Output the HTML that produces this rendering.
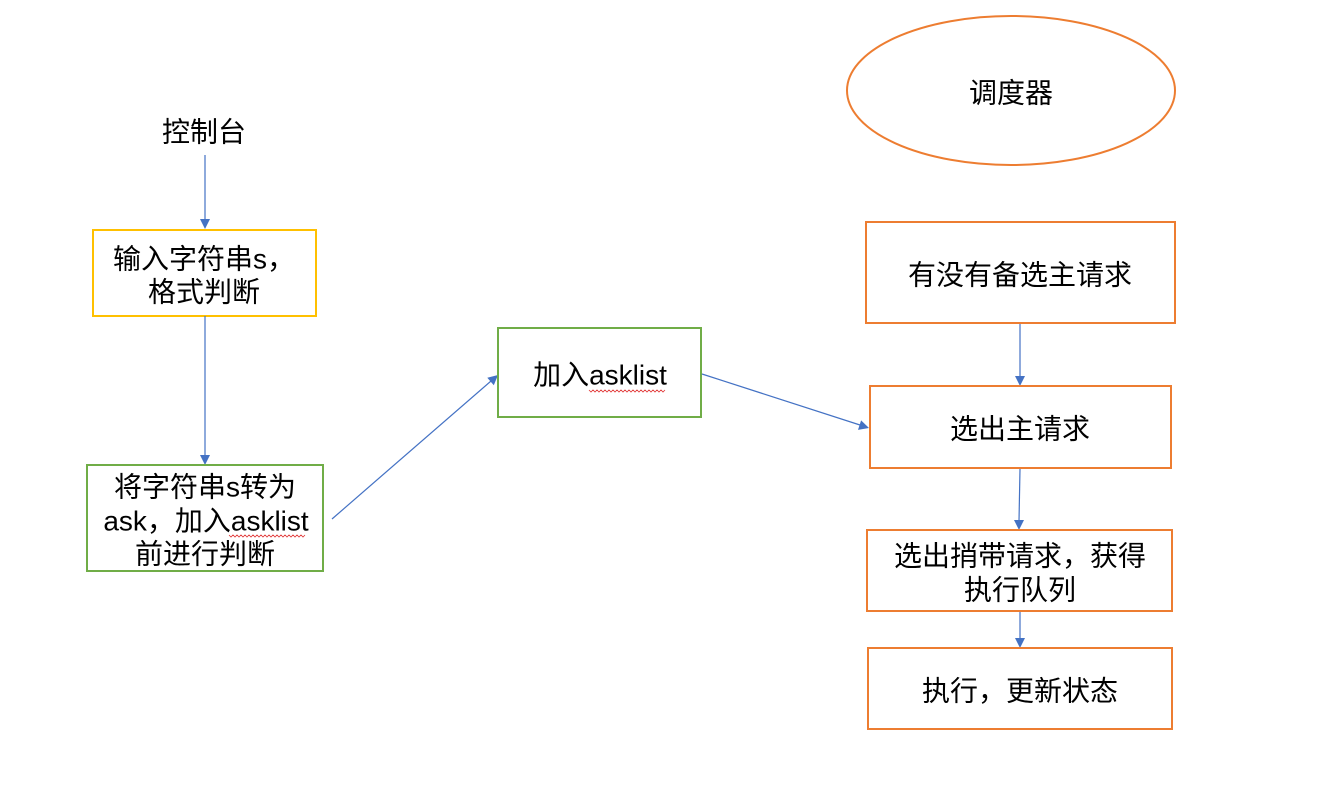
<!DOCTYPE html>
<html>
<head>
<meta charset="utf-8">
<style>
  html, body { margin: 0; padding: 0; background: #ffffff; }
  body { width: 1333px; height: 781px; overflow: hidden; }
  svg text { font-family: "Liberation Sans", "Noto Sans CJK SC", sans-serif; font-size: 28px; fill: #000; }
</style>
</head>
<body>
<svg width="1333" height="781" viewBox="0 0 1333 781" xmlns="http://www.w3.org/2000/svg">
  <!-- Left column -->
  <text x="204" y="132" text-anchor="middle" dominant-baseline="central">控制台</text>

  <line x1="205" y1="155" x2="205" y2="220" stroke="#4472C4" stroke-width="1.2"/>
  <polygon points="205,229 200,219 210,219" fill="#4472C4"/>

  <rect x="93" y="230" width="223" height="86" fill="none" stroke="#FFC000" stroke-width="2"/>
  <text x="204" y="259" text-anchor="middle" dominant-baseline="central">输入字符串s，</text>
  <text x="204" y="292" text-anchor="middle" dominant-baseline="central">格式判断</text>

  <line x1="205" y1="316" x2="205" y2="456" stroke="#4472C4" stroke-width="1.2"/>
  <polygon points="205,465 200,455 210,455" fill="#4472C4"/>

  <rect x="87" y="465" width="236" height="106" fill="none" stroke="#70AD47" stroke-width="2"/>
  <text x="205" y="487" text-anchor="middle" dominant-baseline="central">将字符串s转为</text>
  <text x="206" y="521" text-anchor="middle" dominant-baseline="central">ask，加入asklist</text>
  <text x="205" y="554" text-anchor="middle" dominant-baseline="central">前进行判断</text>
  <polyline points="229,535 231,537 233,535 235,537 237,535 239,537 241,535 243,537 245,535 247,537 249,535 251,537 253,535 255,537 257,535 259,537 261,535 263,537 265,535 267,537 269,535 271,537 273,535 275,537 277,535 279,537 281,535 283,537 285,535 287,537 289,535 291,537 293,535 295,537 297,535 299,537 301,535 303,537 305,535" fill="none" stroke="#E03030" stroke-width="0.8"/>

  <!-- diagonal to asklist box -->
  <line x1="332" y1="519" x2="491" y2="381" stroke="#4472C4" stroke-width="1.2"/>
  <polygon points="498,375 493.8,385.3 487.3,377.7" fill="#4472C4"/>

  <rect x="498" y="328" width="203" height="89" fill="none" stroke="#70AD47" stroke-width="2"/>
  <text x="600" y="375" text-anchor="middle" dominant-baseline="central">加入asklist</text>
  <polyline points="589,390 591,392 593,390 595,392 597,390 599,392 601,390 603,392 605,390 607,392 609,390 611,392 613,390 615,392 617,390 619,392 621,390 623,392 625,390 627,392 629,390 631,392 633,390 635,392 637,390 639,392 641,390 643,392 645,390 647,392 649,390 651,392 653,390 655,392 657,390 659,392 661,390 663,392 665,390" fill="none" stroke="#E03030" stroke-width="0.8"/>

  <!-- diagonal to 选出主请求 -->
  <line x1="702" y1="374" x2="860" y2="425" stroke="#4472C4" stroke-width="1.2"/>
  <polygon points="869,428 858.0,429.9 861.1,420.4" fill="#4472C4"/>

  <!-- Right column -->
  <ellipse cx="1011" cy="90.5" rx="164" ry="74.5" fill="none" stroke="#ED7D31" stroke-width="2"/>
  <text x="1011" y="93" text-anchor="middle" dominant-baseline="central">调度器</text>

  <rect x="866" y="222" width="309" height="101" fill="none" stroke="#ED7D31" stroke-width="2"/>
  <text x="1020" y="275" text-anchor="middle" dominant-baseline="central">有没有备选主请求</text>

  <line x1="1020" y1="324" x2="1020" y2="377" stroke="#4472C4" stroke-width="1.2"/>
  <polygon points="1020,386 1015,376 1025,376" fill="#4472C4"/>

  <rect x="870" y="386" width="301" height="82" fill="none" stroke="#ED7D31" stroke-width="2"/>
  <text x="1020" y="429" text-anchor="middle" dominant-baseline="central">选出主请求</text>

  <line x1="1020" y1="469" x2="1019" y2="521" stroke="#4472C4" stroke-width="1.2"/>
  <polygon points="1019,530 1014,520 1024,520" fill="#4472C4"/>

  <rect x="867" y="530" width="305" height="81" fill="none" stroke="#ED7D31" stroke-width="2"/>
  <text x="1020" y="556" text-anchor="middle" dominant-baseline="central">选出捎带请求，获得</text>
  <text x="1020" y="590" text-anchor="middle" dominant-baseline="central">执行队列</text>

  <line x1="1020" y1="612" x2="1020" y2="639" stroke="#4472C4" stroke-width="1.2"/>
  <polygon points="1020,648 1015,638 1025,638" fill="#4472C4"/>

  <rect x="868" y="648" width="304" height="81" fill="none" stroke="#ED7D31" stroke-width="2"/>
  <text x="1020" y="691" text-anchor="middle" dominant-baseline="central">执行，更新状态</text>
</svg>
</body>
</html>
